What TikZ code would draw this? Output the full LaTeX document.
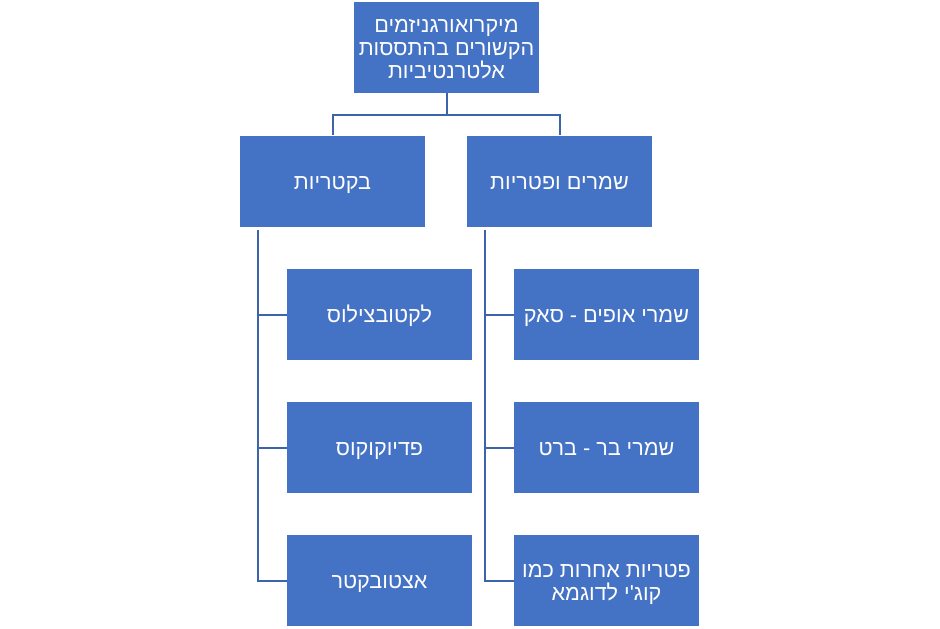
\documentclass[tikz,border=0pt]{standalone}
\usepackage{fontspec}
\newfontfamily\hebfont[Script=Hebrew]{Liberation Sans}
\TeXXeTstate=1
\usetikzlibrary{positioning}
\definecolor{boxblue}{HTML}{4472C4}
\definecolor{lineblue}{HTML}{3B64AD}
\newcommand{\hebline}[1]{\raisebox{-6.2pt}[7pt][7pt]{\beginR #1\endR}}

\begin{document}
\begin{tikzpicture}[x=0.75pt,y=-0.75pt,
  box/.style={rectangle,fill=boxblue,draw=none,text=white,align=center,
    minimum width=138.75pt,minimum height=68.25pt,inner sep=0pt,
    font=\hebfont\fontsize{16.2}{17.3}\selectfont},
  conn/.style={draw=lineblue,line width=1.5pt}]
\useasboundingbox[fill=white] (0,0) rectangle (940,629);

\node[box] (micro) at (446.5,47.5) {\hebline{מיקרואורגניזמים}\\\hebline{הקשורים בהתססות}\\\hebline{אלטרנטיביות}};

\node[box] (bact) at (332.5,181) {\hebline{בקטריות}};
\node[box] (yeast) at (559.5,181) {\hebline{שמרים ופטריות}};

\node[box] (lacto) at (379.5,314.5) {\hebline{לקטובצילוס}};
\node[box] (pedio) at (379.5,447.5) {\hebline{פדיוקוקוס}};
\node[box] (aceto) at (379.5,580.5) {\hebline{אצטובקטר}};

\node[box] (sac) at (606.5,314.5) {\hebline{שמרי אופים - סאק}};
\node[box] (brett) at (606.5,447.5) {\hebline{שמרי בר - ברט}};
\node[box] (koji) at (606.5,580.5) {\hebline{פטריות אחרות כמו}\\\hebline{קוג\textquotesingle י לדוגמא}};

% top level
\draw[conn] (micro.south) -- ++(0,22) coordinate (split);
\draw[conn] (split) -| (bact.north);
\draw[conn] (split) -| (yeast.north);

% bacteria branch
\draw[conn] ([shift={(18,3)}]bact.south west) |- (lacto.west);
\draw[conn] ([shift={(18,3)}]bact.south west) |- (pedio.west);
\draw[conn] ([shift={(18,3)}]bact.south west) |- (aceto.west);

% yeast branch
\draw[conn] ([shift={(18,3)}]yeast.south west) |- (sac.west);
\draw[conn] ([shift={(18,3)}]yeast.south west) |- (brett.west);
\draw[conn] ([shift={(18,3)}]yeast.south west) |- (koji.west);

\end{tikzpicture}
\end{document}
